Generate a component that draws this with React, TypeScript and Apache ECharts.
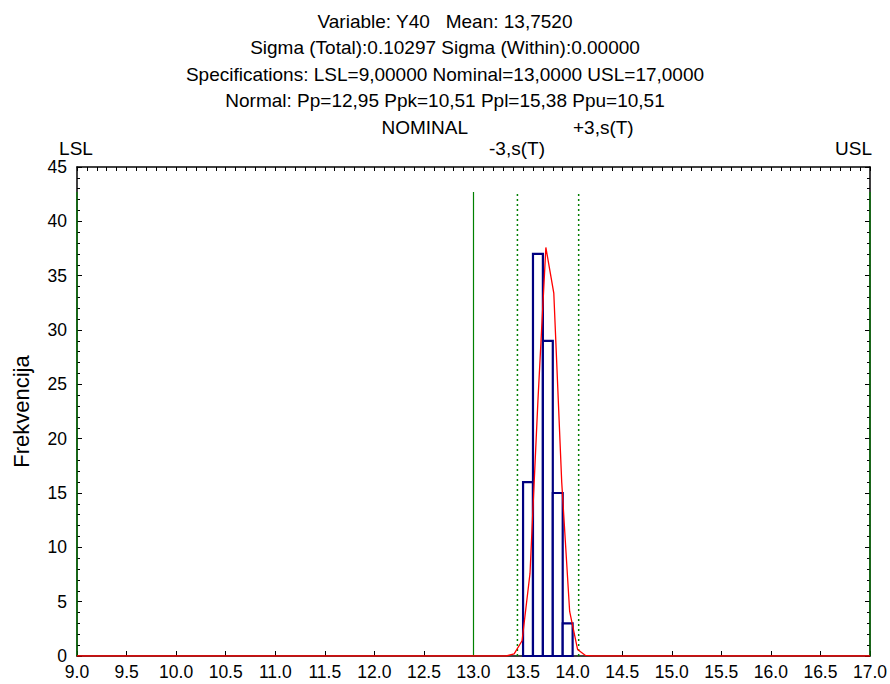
import React, { useEffect, useRef } from "react";
import * as echarts from "echarts";

// Histogram bins (class limits) and frequencies
const binStart = [13.5, 13.6, 13.7, 13.8, 13.9];
const binEnd = [13.6, 13.7, 13.8, 13.9, 14.0];
const counts = [16, 37, 29, 15, 3];

// Fitted normal curve
const curveX = [9.0, 13.33, 13.41, 13.49, 13.57, 13.65, 13.73, 13.81, 13.89, 13.97, 14.05, 14.13, 14.21, 17.0];
const curveY = [0, 0, 0.2, 1.4, 7.6, 23.5, 37.6, 33.4, 16.0, 4.1, 0.6, 0.05, 0, 0];

// Specification lines (LSL, Nominal, USL) and +-3 sigma lines
const specX = [9.0, 13.0, 17.0];
const sigmaX = [13.443, 14.061];
const lineTop = 42.7;

const titleLines = [
  "Variable: Y40   Mean: 13,7520",
  "Sigma (Total):0.10297 Sigma (Within):0.00000",
  "Specifications: LSL=9,00000 Nominal=13,0000 USL=17,0000",
  "Normal: Pp=12,95 Ppk=10,51 Ppl=15,38 Ppu=10,51",
];

const FONT = "'Liberation Sans', Arial, sans-serif";

export default function App() {
  const ref = useRef<HTMLDivElement>(null);
  useEffect(() => {
    if (!ref.current) return;
    const chart = echarts.init(ref.current, null, { renderer: "svg" });
    const vline = (x: number, dotted: boolean) => ({
      type: "line",
      data: [[x, 0], [x, lineTop]],
      symbol: "none",
      silent: true,
      z: 3,
      lineStyle: { color: "#008000", width: dotted ? 1.5 : 1.2, type: dotted ? [2, 3] : "solid" },
    });
    const textStyle = { fontFamily: FONT, fontSize: 19, fill: "#000" };
    const option: any = {
      animation: false,
      backgroundColor: "#fff",
      textStyle: { fontFamily: FONT },
      grid: { left: 77, right: 20, top: 167, bottom: 28, outerBoundsMode: "none", containLabel: false },
      xAxis: [
        {
          type: "value",
          min: 9,
          max: 17,
          interval: 0.5,
          position: "bottom",
          axisLine: { show: true, onZero: false, lineStyle: { color: "#000", width: 1.5 } },
          axisTick: { show: true, inside: true, length: 5, lineStyle: { color: "#000" } },
          axisLabel: { color: "#000", fontSize: 17.5, fontFamily: FONT, margin: 7, formatter: (v: number) => v.toFixed(1) },
          splitLine: { show: false },
        },
        {
          type: "value",
          min: 9,
          max: 17,
          interval: 0.1,
          position: "top",
          axisLine: { show: true, onZero: false, lineStyle: { color: "#000", width: 1.5 } },
          axisTick: { show: true, inside: true, length: 4, lineStyle: { color: "#000" } },
          axisLabel: { show: false },
          splitLine: { show: false },
        },
      ],
      yAxis: [
        {
          type: "value",
          min: 0,
          max: 45,
          interval: 5,
          position: "left",
          name: "Frekvencija",
          nameLocation: "middle",
          nameGap: 45,
          nameTextStyle: { fontSize: 22, fontFamily: FONT, color: "#000" },
          axisLine: { show: true, lineStyle: { color: "#000", width: 1.5 } },
          axisTick: { show: true, inside: true, length: 5, lineStyle: { color: "#000" } },
          minorTick: { show: true, splitNumber: 5, length: 3, lineStyle: { color: "#000" } },
          axisLabel: { color: "#000", fontSize: 17.5, fontFamily: FONT, margin: 10 },
          splitLine: { show: false },
        },
        {
          type: "value",
          min: 0,
          max: 45,
          interval: 5,
          position: "right",
          axisLine: { show: true, lineStyle: { color: "#000", width: 1.5 } },
          axisTick: { show: true, inside: true, length: 5, lineStyle: { color: "#000" } },
          minorTick: { show: true, splitNumber: 5, length: 3, lineStyle: { color: "#000" } },
          axisLabel: { show: false },
          splitLine: { show: false },
        },
      ],
      series: [
        {
          type: "custom",
          data: binStart.map((s, i) => [s, binEnd[i], counts[i]]),
          encode: { x: [0, 1], y: 2 },
          z: 2,
          renderItem: (params: any, api: any) => {
            const p0 = api.coord([api.value(0), 0]);
            const p1 = api.coord([api.value(1), api.value(2)]);
            return {
              type: "rect",
              shape: { x: p0[0], y: p1[1], width: p1[0] - p0[0], height: p0[1] - p1[1] },
              style: { fill: "#ffffff", stroke: "#000080", lineWidth: 2.2 },
            };
          },
        },
        ...specX.map((x) => vline(x, false)),
        ...sigmaX.map((x) => vline(x, true)),
        {
          type: "line",
          data: curveX.map((x, i) => [x, curveY[i]]),
          symbol: "none",
          z: 4,
          lineStyle: { color: "#ff0000", width: 1.3 },
        },
      ],
      graphic: [
        ...titleLines.map((t, i) => ({
          type: "text",
          x: 445,
          y: 21 + i * 26.5,
          style: { ...textStyle, text: t, align: "center", verticalAlign: "middle" },
        })),
        { type: "text", x: 468, y: 127, style: { ...textStyle, text: "NOMINAL", align: "right", verticalAlign: "middle" } },
        { type: "text", x: 573, y: 127, style: { ...textStyle, text: "+3,s(T)", align: "left", verticalAlign: "middle" } },
        { type: "text", x: 517, y: 148, style: { ...textStyle, text: "-3,s(T)", align: "center", verticalAlign: "middle" } },
        { type: "text", x: 76, y: 148, style: { ...textStyle, text: "LSL", align: "center", verticalAlign: "middle" } },
        { type: "text", x: 872, y: 148, style: { ...textStyle, text: "USL", align: "right", verticalAlign: "middle" } },
      ],
    };
    chart.setOption(option);
    return () => chart.dispose();
  }, []);
  return <div ref={ref} style={{ position: "fixed", left: 0, top: 0, width: 890, height: 684 }} />;
}
